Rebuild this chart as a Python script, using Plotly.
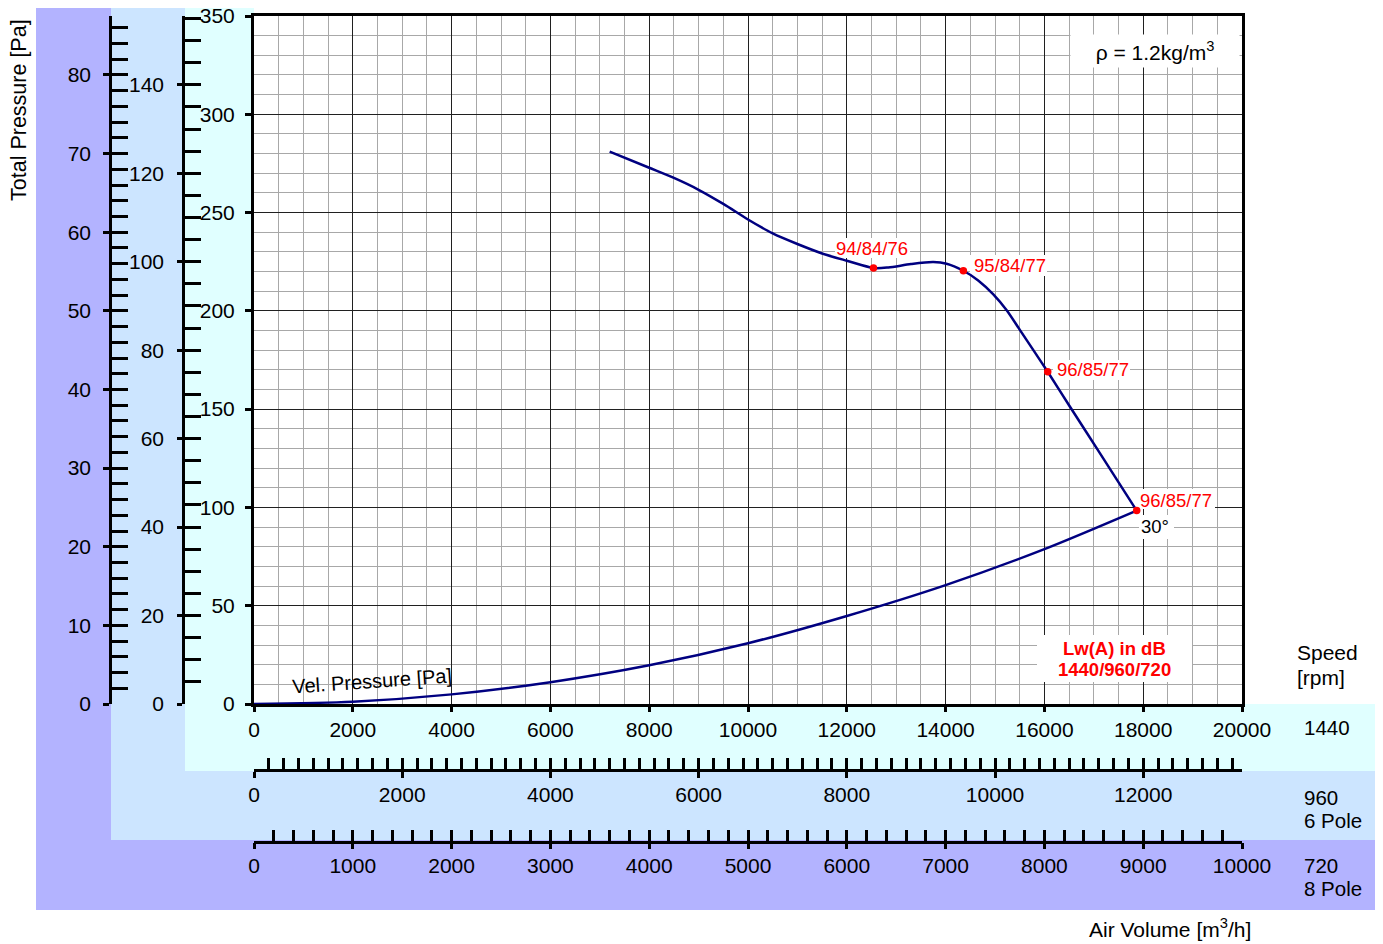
import plotly.graph_objects as go

W, H = 1383, 944
OFF = 8  # page body margin; positions below are given in screen pixels


def px(x):
    return (x - OFF) / W


def py(y):
    return 1 - (y - OFF) / H


# ---------------- data ----------------
tp_x = [7200, 8000, 8500, 9000, 9500, 10000, 10500, 11000, 11500, 12000, 12540,
        12840, 13300, 13750, 14020, 14360, 14660, 14966, 15240, 15506, 15780,
        16067, 16518, 17126, 17868]
tp_y = [281, 272.8, 267.6, 261.6, 254.4, 246.5, 239.4, 234, 229.2, 225.5, 221.8,
        222.1, 223.8, 224.8, 224.0, 220.4, 215.5, 208.4, 200.2, 190.2, 179.9,
        169.0, 151.2, 127.5, 98.4]

vp_x = [0, 2000, 4000, 6000, 8000, 10000, 12000, 14000, 16000, 17868]
vp_y = [0, 1.2, 4.9, 11.1, 19.7, 30.9, 44.8, 60.5, 78.8, 98.4]

pt_x = [12540, 14360, 16067, 17868]
pt_y = [221.8, 220.4, 169.0, 98.4]
pt_labels = ["94/84/76", "95/84/77", "96/85/77", "96/85/77"]

x1440_range = [0, 20000]
x960_range = [0, 20000 * 960 / 1440]
x720_range = [0, 10000]
y1440_range = [0, 350]
y960_range = [0, 350 * (960 / 1440) ** 2]
y720_range = [0, 350 * (720 / 1440) ** 2]

FONT = "Liberation Sans, Arial, sans-serif"
NAVY = "#000080"
RED = "#FF0000"
PURPLE = "#B3B3FF"
LBLUE = "#CCE5FF"
CYAN = "#E0FFFF"

# plot-area placement (screen pixels)
PL, PR, PT, PB = 254, 1242, 16, 704

fig = go.Figure()

fig.add_trace(go.Scatter(x=vp_x, y=vp_y, mode="lines",
                         line=dict(color=NAVY, width=2.5, shape="spline", smoothing=0.8),
                         hoverinfo="skip", showlegend=False))
fig.add_trace(go.Scatter(x=tp_x, y=tp_y, mode="lines",
                         line=dict(color=NAVY, width=2.5, shape="spline", smoothing=0.8),
                         hoverinfo="skip", showlegend=False))
fig.add_trace(go.Scatter(x=pt_x, y=pt_y, mode="markers",
                         marker=dict(color=RED, size=7.5),
                         hoverinfo="skip", showlegend=False))

# dummy traces so the extra axes get drawn
for xa, ya in [("x2", "y"), ("x3", "y"), ("x4", "y"), ("x5", "y"),
               ("x", "y2"), ("x", "y3"), ("x", "y4"), ("x", "y5")]:
    fig.add_trace(go.Scatter(x=[0], y=[0], xaxis=xa, yaxis=ya, mode="markers",
                             marker=dict(opacity=0), hoverinfo="skip", showlegend=False))

dom_x = [px(PL), px(PR)]
dom_y = [py(PB), py(PT)]

tickfont = dict(family=FONT, size=21, color="black")

common = dict(showgrid=False, zeroline=False, tickfont=tickfont, fixedrange=True,
              automargin=False, tickformat="d", ticklabeloverflow="allow")

fig.update_layout(
    width=W, height=H,
    margin=dict(l=0, r=0, t=0, b=0, pad=0, autoexpand=False),
    paper_bgcolor="white", plot_bgcolor="white",
    font=dict(family=FONT, size=21, color="black"),
    xaxis=dict(domain=dom_x, range=x1440_range, anchor="y", dtick=2000,
               ticks="outside", ticklen=5, tickwidth=2.5, tickcolor="black",
               showline=True, linewidth=3, linecolor="black", mirror=True,
               showgrid=True, gridcolor="#202020", gridwidth=1,
               minor=dict(dtick=500, showgrid=True, gridcolor="#A8A8A8", gridwidth=1),
               zeroline=False, tickfont=tickfont, ticklabelstandoff=0, fixedrange=True,
               automargin=False, tickformat="d", ticklabeloverflow="allow"),
    yaxis=dict(domain=dom_y, range=y1440_range, anchor="x", dtick=50,
               ticks="outside", ticklen=6, tickwidth=2.5, tickcolor="black",
               showline=True, linewidth=3, linecolor="black", mirror=True,
               showgrid=True, gridcolor="#202020", gridwidth=1,
               minor=dict(dtick=10, showgrid=True, gridcolor="#A8A8A8", gridwidth=1),
               zeroline=False, tickfont=tickfont, ticklabelstandoff=6, fixedrange=True,
               automargin=False, tickformat="d", ticklabeloverflow="allow"),
    # 960 rpm x axis
    xaxis2=dict(overlaying="x", anchor="free", position=py(770), side="bottom",
                range=x960_range, dtick=2000, ticks="outside", ticklen=6, tickwidth=2.5,
                tickcolor="black", showline=True, linewidth=2.5, linecolor="black",
                ticklabelstandoff=-1, **common),
    xaxis4=dict(overlaying="x", anchor="free", position=py(770), side="bottom",
                range=x960_range, dtick=200, ticks="inside", ticklen=12, tickwidth=2.5,
                tickcolor="black", showline=False, showticklabels=False, **common),
    # 720 rpm x axis
    xaxis3=dict(overlaying="x", anchor="free", position=py(841.5), side="bottom",
                range=x720_range, dtick=1000, ticks="outside", ticklen=6, tickwidth=2.5,
                tickcolor="black", showline=True, linewidth=2.5, linecolor="black",
                ticklabelstandoff=-1, **common),
    xaxis5=dict(overlaying="x", anchor="free", position=py(841.5), side="bottom",
                range=x720_range, dtick=200, ticks="inside", ticklen=12, tickwidth=2.5,
                tickcolor="black", showline=False, showticklabels=False, **common),
    # 960 rpm y axis
    yaxis2=dict(overlaying="y", anchor="free", position=px(183), side="left",
                range=y960_range, dtick=20, ticks="outside", ticklen=5, tickwidth=2.5,
                tickcolor="black", showline=True, linewidth=2.5, linecolor="black",
                ticklabelstandoff=9, **common),
    yaxis4=dict(overlaying="y", anchor="free", position=px(183), side="left",
                range=y960_range, dtick=5, ticks="inside", ticklen=17, tickwidth=2.5,
                tickcolor="black", showline=False, showticklabels=False, **common),
    # 720 rpm y axis
    yaxis3=dict(overlaying="y", anchor="free", position=px(110), side="left",
                range=y720_range, dtick=10, ticks="outside", ticklen=6, tickwidth=2.5,
                tickcolor="black", showline=True, linewidth=2.5, linecolor="black",
                ticklabelstandoff=8, **common),
    yaxis5=dict(overlaying="y", anchor="free", position=px(110), side="left",
                range=y720_range, dtick=2, ticks="inside", ticklen=17, tickwidth=2.5,
                tickcolor="black", showline=False, showticklabels=False, **common),
)


# background regions
def rect(x0, y0, x1, y1, color):
    fig.add_shape(type="rect", xref="paper", yref="paper",
                  x0=px(x0), x1=px(x1), y0=py(y1), y1=py(y0),
                  fillcolor=color, line=dict(width=0), layer="below")


RIGHT = W + OFF
rect(36, 7, 111, 910, PURPLE)
rect(111, 840, RIGHT, 910, PURPLE)
rect(111, 7, 185, 840, LBLUE)
rect(185, 771, RIGHT, 840, LBLUE)
rect(185, 7, 254, 771, CYAN)
rect(254, 704, RIGHT, 771, CYAN)


# white label backgrounds drawn between the grid and the curves
def sx(X):
    return (X - PL) / (PR - PL) * x1440_range[1]


def sy(Y):
    return (PB - Y) / (PB - PT) * y1440_range[1]


for (x0, y0, x1, y1) in [(835, 238, 910, 258), (970, 255, 1047, 276),
                         (1053, 360, 1130, 380), (1137, 489, 1215, 509),
                         (1139, 515, 1174, 539), (1037, 635, 1192, 682)]:
    fig.add_shape(type="rect", xref="x", yref="y", x0=sx(x0), x1=sx(x1),
                  y0=sy(y1), y1=sy(y0), fillcolor="white", line=dict(width=0),
                  layer="between")


def note(x, y, text, size=21, color="black", xanchor="center", **kw):
    return dict(x=px(x), y=py(y), xref="paper", yref="paper", text=text,
                showarrow=False, xanchor=xanchor, yanchor="middle",
                font=dict(family=FONT, size=size, color=color), **kw)


ann = []
lab_pos = [(872, 248.5, "center"), (972, 265.3, "left"), (1055, 369.7, "left"), (1138, 500, "left")]
for (lx, ly, anc), t in zip(lab_pos, pt_labels):
    ann.append(note(lx, ly, t, size=18.5, color=RED, xanchor=anc))
ann.append(note(1155, 526, "30°", size=18.5))
ann.append(note(1155, 51, "ρ = 1.2kg/m<sup>3</sup>", size=21,
                width=166, height=30, bgcolor="white"))
ann.append(note(1114, 648, "<b>Lw(A) in dB</b>", size=18.5, color=RED))
ann.append(note(1114, 669, "<b>1440/960/720</b>", size=18.5, color=RED))
ann.append(note(372, 681, "Vel. Pressure [Pa]", size=20, textangle=-4))
ann.append(note(19, 110, "Total Pressure [Pa]", size=21.5, textangle=-90))
for (lx, ly, t) in [(1295, 652, "Speed"), (1295, 677, "[rpm]"), (1302, 727, "1440"),
                    (1302, 797, "960"), (1302, 820, "6 Pole"),
                    (1302, 865, "720"), (1302, 888, "8 Pole")]:
    ann.append(note(lx, ly, t, size=21 if lx == 1295 else 20.5, xanchor="left"))
ann.append(note(1170, 928, "Air Volume [m<sup>3</sup>/h]", size=21))
fig.update_layout(annotations=ann)

fig.write_html("out.html")
